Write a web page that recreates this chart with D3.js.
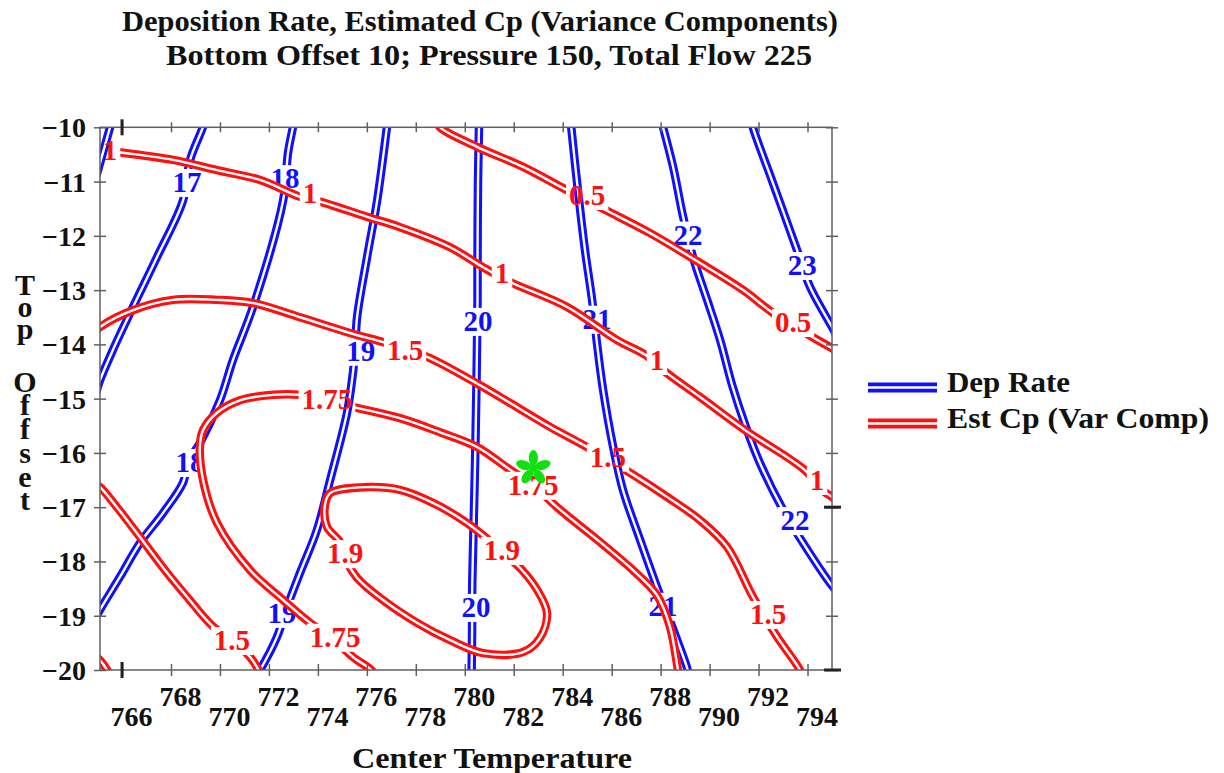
<!DOCTYPE html>
<html>
<head>
<meta charset="utf-8">
<script src="https://cdn.jsdelivr.net/npm/d3@7"></script>
<style>
  body { margin: 0; background: #fff; }
  text { font-family: "Liberation Serif", "Times New Roman", serif; font-weight: bold; }
</style>
</head>
<body>
<svg id="chart" width="1224" height="773"></svg>
<script>
// ---- Titles, axes ----
const titleLines = ["Deposition Rate, Estimated Cp (Variance Components)",
                    "Bottom Offset 10; Pressure 150, Total Flow 225"];
const xLabel = "Center Temperature";
const yLabel = "Top Offset";
const xDomain = [765.1, 795.0];
const yDomain = [-20, -10];
const xTicks = d3.range(766, 795, 2);
const yTicks = d3.range(-20, -9, 1);
const xMarks = [766];
const yMarks = [-17, -20];
const legendNames = ["Dep Rate", "Est Cp (Var Comp)"];

// ---- Deposition rate contours (Center Temperature, Top Offset) ----
const dep16 = [[765.57,-9.9],[765.51,-10.0],[765.10,-10.66],[764.95,-10.9]];
const dep17 = [[769.35,-9.9],[769.30,-10.0],[768.78,-10.60],[768.49,-11.35],[767.43,-12.39],[766.45,-13.31],[765.63,-14.10],[765.10,-14.66],[764.9,-14.95]];
const dep18 = [[773.02,-9.9],[772.98,-10.0],[772.78,-10.47],[772.58,-11.35],[771.35,-13.31],[770.53,-14.29],[770.0,-15.03],[769.18,-15.82],[768.69,-16.17],[768.49,-16.55],[767.67,-17.11],[766.73,-17.66],[765.92,-18.28],[765.10,-18.89],[764.9,-19.05]];
const dep19 = [[776.85,-9.9],[776.82,-10.0],[776.42,-11.35],[776.01,-12.39],[775.60,-13.50],[775.52,-14.10],[775.43,-14.53],[775.19,-15.26],[774.50,-16.50],[773.96,-17.42],[773.27,-18.21],[772.74,-18.84],[772.33,-19.39],[771.64,-20.0],[771.5,-20.1]];
const dep20 = [[780.58,-9.9],[780.58,-10.0],[780.54,-11.03],[780.52,-12.58],[780.52,-13.18],[780.50,-13.98],[780.48,-14.66],[780.42,-16.19],[780.34,-17.73],[780.30,-18.58],[780.30,-19.22],[780.28,-20.0],[780.28,-20.1]];
const dep21 = [[784.33,-9.9],[784.35,-10.0],[784.59,-11.03],[784.91,-12.26],[785.20,-13.18],[785.40,-13.98],[785.65,-14.84],[786.06,-15.89],[786.46,-16.68],[787.16,-17.60],[787.85,-18.47],[788.47,-19.20],[789.08,-19.96],[789.15,-20.1]];
const dep22 = [[788.05,-9.9],[788.10,-10.0],[788.51,-10.73],[788.92,-11.65],[789.32,-12.39],[789.90,-13.18],[790.43,-13.92],[790.92,-14.75],[791.45,-15.48],[792.06,-16.19],[793.00,-17.05],[793.82,-17.66],[794.92,-18.40],[795.2,-18.55]];
const dep23 = [[791.73,-9.9],[791.77,-10.0],[792.59,-11.03],[793.57,-12.26],[794.10,-12.94],[795.0,-13.68],[795.2,-13.85]];

// ---- Estimated Cp contours ----
const cp05 = [[778.9,-9.9],[778.99,-10.0],[780.50,-10.36],[782.38,-10.73],[784.18,-11.16],[785.73,-11.52],[787.57,-11.95],[789.61,-12.50],[791.37,-13.0],[792.59,-13.42],[794.18,-13.86],[795.0,-14.07],[795.2,-14.12]];
const cp10 = [[764.9,-10.40],[765.10,-10.42],[766.04,-10.47],[768.08,-10.60],[769.88,-10.79],[771.64,-10.97],[773.27,-11.28],[773.96,-11.35],[776.01,-11.65],[777.35,-11.84],[779.40,-12.21],[780.75,-12.58],[781.85,-12.85],[784.18,-13.31],[786.22,-13.92],[787.40,-14.20],[788.26,-14.53],[789.61,-14.97],[791.45,-15.58],[793.90,-16.32],[794.59,-16.68],[795.0,-16.81],[795.2,-16.88]];
const cp10b = [[764.9,-19.75],[765.10,-19.82],[765.39,-20.0],[765.5,-20.1]];
const cp15 = [[764.9,-13.76],[765.10,-13.68],[766.45,-13.37],[768.08,-13.18],[769.88,-13.18],[771.35,-13.24],[773.27,-13.50],[775.31,-13.79],[776.82,-13.98],[778.46,-14.23],[780.50,-14.72],[781.85,-15.08],[783.48,-15.52],[784.99,-15.89],[786.87,-16.40],[788.26,-16.81],[789.61,-17.24],[790.71,-17.73],[791.77,-18.65],[792.76,-19.39],[793.69,-20.0],[793.85,-20.2]];
const cp15b = [[764.9,-16.58],[765.10,-16.63],[765.79,-17.0],[766.73,-17.55],[767.84,-18.21],[768.65,-18.65],[769.72,-19.20],[770.53,-19.45],[771.23,-19.76],[771.55,-19.98],[771.7,-20.15]];
const cp175 = [[776.37,-20.1],[776.13,-19.98],[775.43,-19.76],[774.62,-19.42],[773.68,-19.13],[772.58,-18.71],[771.23,-18.16],[769.88,-17.29],[769.31,-16.50],[769.18,-15.89],[769.31,-15.58],[769.88,-15.26],[770.82,-15.03],[772.17,-14.93],[773.27,-14.93],[774.37,-15.03],[775.43,-15.15],[777.35,-15.36],[778.99,-15.62],[780.50,-15.89],[781.85,-16.31],[782.79,-16.59],[783.77,-17.0],[785.52,-17.64],[786.87,-18.16],[787.85,-18.62],[788.38,-19.20],[788.71,-20.0],[788.8,-20.2]];
const cp19 = [[774.90,-17.64],[774.37,-17.36],[774.29,-16.96],[774.50,-16.74],[776.01,-16.63],[777.35,-16.68],[778.70,-16.92],[780.09,-17.29],[780.83,-17.55],[781.52,-17.82],[782.26,-18.12],[782.95,-18.52],[783.36,-18.95],[783.07,-19.41],[782.38,-19.67],[780.75,-19.69],[779.40,-19.45],[778.05,-19.13],[776.54,-18.67],[775.60,-18.30],[775.08,-17.91]];

// contour id, level, path, closed?
const depContours = [
  {id: "d16", level: 16, pts: dep16}, {id: "d17", level: 17, pts: dep17},
  {id: "d18", level: 18, pts: dep18}, {id: "d19", level: 19, pts: dep19},
  {id: "d20", level: 20, pts: dep20}, {id: "d21", level: 21, pts: dep21},
  {id: "d22", level: 22, pts: dep22}, {id: "d23", level: 23, pts: dep23}
];
const cpContours = [
  {id: "c05", level: 0.5, pts: cp05}, {id: "c10", level: 1, pts: cp10},
  {id: "c10b", level: 1, pts: cp10b}, {id: "c15", level: 1.5, pts: cp15},
  {id: "c15b", level: 1.5, pts: cp15b}, {id: "c175", level: 1.75, pts: cp175},
  {id: "c19", level: 1.9, pts: cp19, closed: true}
];

// label anchors: contour id, Center Temperature, Top Offset
const depLabels = [
  ["d17", 768.65, -11.01], ["d18", 772.66, -10.94], ["d18", 768.78, -16.17],
  ["d19", 775.75, -14.12], ["d19", 772.53, -18.95], ["d20", 780.54, -13.57],
  ["d20", 780.46, -18.84], ["d21", 785.40, -13.53], ["d21", 788.10, -18.82],
  ["d22", 789.12, -11.98], ["d22", 793.49, -17.24], ["d23", 793.78, -12.54]
];
const cpLabels = [
  ["c10", 765.51, -10.42], ["c10", 773.68, -11.21], ["c10", 781.52, -12.68],
  ["c10", 787.85, -14.29], ["c10", 794.39, -16.50], ["c05", 785.0, -11.25],
  ["c05", 793.41, -13.59], ["c15", 777.56, -14.10], ["c15", 785.85, -16.07],
  ["c15", 792.39, -18.97], ["c15b", 770.49, -19.45], ["c175", 774.37, -15.01],
  ["c175", 782.79, -16.59], ["c175", 774.70, -19.39], ["c19", 775.11, -17.85],
  ["c19", 781.52, -17.79]
];

// current optimum point
const optimum = [782.8, -16.28];

// ---- Drawing ----
const W = 1224, H = 773;
const box = {left: 100, right: 832, top: 127.3, bottom: 670};
const blue = "#1010ff", red = "#ff1010", green = "#10e010", axisCol = "#606060", ink = "#111";
const svg = d3.select("#chart");
const defs = svg.append("defs");

const x = d3.scaleLinear().domain(xDomain).range([box.left, box.right]);
const y = d3.scaleLinear().domain(yDomain).range([box.bottom, box.top]);

defs.append("clipPath").attr("id", "plotClip").append("rect")
  .attr("x", box.left).attr("y", box.top)
  .attr("width", box.right - box.left).attr("height", box.bottom - box.top);

const lineOpen = d3.line().x(d => x(d[0])).y(d => y(d[1])).curve(d3.curveCatmullRom.alpha(0.5));
const lineClosed = d3.line().x(d => x(d[0])).y(d => y(d[1])).curve(d3.curveCatmullRomClosed.alpha(0.5));

// text placed by its left edge and stretched to a given width
function wideText(sel, str, x0, yb, width, size) {
  return sel.append("text").attr("x", x0).attr("y", yb).attr("font-size", size)
    .attr("fill", ink).attr("textLength", width).attr("lengthAdjust", "spacingAndGlyphs")
    .text(str);
}

// titles
wideText(svg, titleLines[0], 122, 31, 716, 30);
wideText(svg, titleLines[1], 166, 65, 646, 30);

// layers in paint order
const gBlueLines = svg.append("g").attr("clip-path", "url(#plotClip)");
const gBlueLabels = svg.append("g");
const gRedLines = svg.append("g").attr("clip-path", "url(#plotClip)");
const gRedLabels = svg.append("g");
const gAxes = svg.append("g");
const gStar = svg.append("g");

function drawSet(contours, labels, color, gLines, gLabels) {
  const byId = new Map(contours.map(c => [c.id, c]));
  const holes = new Map(contours.map(c => [c.id, []]));
  labels.forEach(([id, lx, ly]) => {
    const t = gLabels.append("text")
      .attr("x", x(lx)).attr("y", y(ly)).attr("dy", "0.34em")
      .attr("text-anchor", "middle").attr("font-size", 29)
      .attr("fill", color).text(byId.get(id).level);
    const b = t.node().getBBox();
    holes.get(id).push({x: b.x - 3, y: b.y + 3, w: b.width + 6, h: b.height - 4});
  });
  contours.forEach(c => {
    const m = defs.append("mask").attr("id", "mask-" + c.id)
      .attr("maskUnits", "userSpaceOnUse")
      .attr("x", 0).attr("y", 0).attr("width", W).attr("height", H);
    m.append("rect").attr("width", W).attr("height", H).attr("fill", "white");
    holes.get(c.id).forEach(h => m.append("rect")
      .attr("x", h.x).attr("y", h.y).attr("width", h.w).attr("height", h.h).attr("fill", "black"));
    const g = gLines.append("g").attr("mask", `url(#mask-${c.id})`);
    const d = (c.closed ? lineClosed : lineOpen)(c.pts);
    g.append("path").attr("d", d).attr("fill", "none").attr("stroke", color)
      .attr("stroke-width", 8.5).attr("stroke-linejoin", "round");
    g.append("path").attr("d", d).attr("fill", "none").attr("stroke", "#fff")
      .attr("stroke-width", 2.4).attr("stroke-linejoin", "round");
  });
}
drawSet(depContours, depLabels, blue, gBlueLines, gBlueLabels);
drawSet(cpContours, cpLabels, red, gRedLines, gRedLabels);

// frame
gAxes.append("rect").attr("x", box.left).attr("y", box.top)
  .attr("width", box.right - box.left).attr("height", box.bottom - box.top)
  .attr("fill", "none").attr("stroke", axisCol).attr("stroke-width", 1.5);

// ticks crossing the frame on all four sides
function crossTicks(axisGen, transform) {
  const g = gAxes.append("g").attr("transform", transform).call(axisGen);
  g.select(".domain").remove();
  g.selectAll(".tick line").attr("stroke", axisCol).attr("stroke-width", 1.5);
  return g;
}
crossTicks(d3.axisBottom(x).tickValues(xTicks).tickSize(10).tickFormat(""), `translate(0,${box.top - 5})`);
const gx1 = crossTicks(d3.axisBottom(x).tickValues(xTicks).tickSize(12).tickFormat(d3.format("d")), `translate(0,${box.bottom - 6})`);
gx1.selectAll(".tick text")
  .attr("font-size", 28).attr("fill", ink).attr("dx", 9)
  .attr("y", (d, i) => i % 2 === 0 ? 62 : 42).attr("dy", 0);
const gy0 = crossTicks(d3.axisRight(y).tickValues(yTicks).tickSize(12).tickFormat(d3.format("d")), `translate(${box.left - 6},0)`);
gy0.selectAll(".tick text")
  .attr("font-size", 28).attr("fill", ink).attr("text-anchor", "end")
  .attr("x", -8).attr("dy", "0.34em");
crossTicks(d3.axisRight(y).tickValues(yTicks).tickSize(12).tickFormat(""), `translate(${box.right - 6},0)`);

// heavy marks for the current settings
xMarks.forEach(v => {
  [box.top, box.bottom].forEach(yy => gAxes.append("line")
    .attr("x1", x(v)).attr("x2", x(v)).attr("y1", yy - 8).attr("y2", yy + 8)
    .attr("stroke", "#222").attr("stroke-width", 3));
});
yMarks.forEach(v => gAxes.append("line")
  .attr("x1", box.right - 8).attr("x2", box.right + 9).attr("y1", y(v)).attr("y2", y(v))
  .attr("stroke", "#222").attr("stroke-width", 3));

// axis titles
wideText(svg, xLabel, 352, 768, 280, 30);
const yBase = [295, 317, 339, null, 392, 415, 439, 463, 487, 510];
const yTitle = svg.append("text").attr("text-anchor", "middle").attr("font-size", 30).attr("fill", ink);
yLabel.split("").forEach((ch, i) => {
  if (ch === " ") return;
  yTitle.append("tspan").attr("x", 25).attr("y", yBase[i]).text(ch);
});

// optimum marker: green asterisk of five petals
const star = gStar.append("g").attr("transform", `translate(${x(optimum[0])},${y(optimum[1])})`);
d3.range(5).forEach(k => {
  star.append("ellipse").attr("cx", 0).attr("cy", -10).attr("rx", 4.6).attr("ry", 8)
    .attr("transform", `rotate(${k * 72})`).attr("fill", green);
});
star.append("circle").attr("r", 3.5).attr("fill", green);

// legend
const legend = svg.append("g");
[[blue, 387.5, 392, 123], [red, 423.5, 428, 262]].forEach(([col, ly, ty, tw], i) => {
  legend.append("line").attr("x1", 868).attr("x2", 937).attr("y1", ly).attr("y2", ly)
    .attr("stroke", col).attr("stroke-width", 10);
  legend.append("line").attr("x1", 868).attr("x2", 937).attr("y1", ly).attr("y2", ly)
    .attr("stroke", "#fff").attr("stroke-width", 2.6);
  wideText(legend, legendNames[i], 947, ty, tw, 30);
});
</script>
</body>
</html>
